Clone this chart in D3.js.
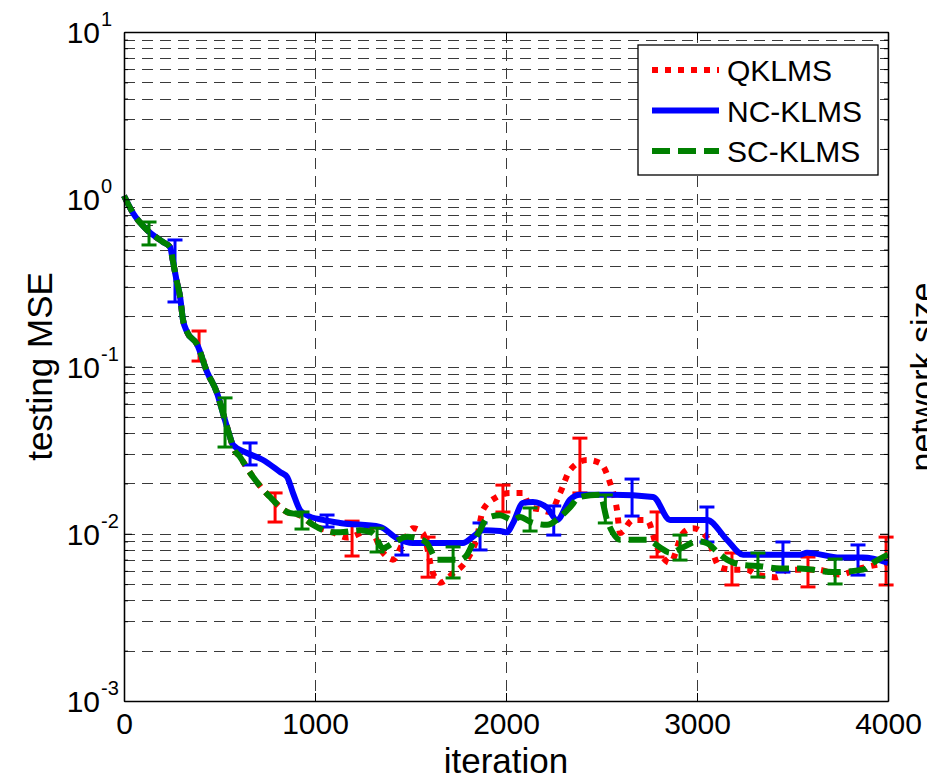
<!DOCTYPE html>
<html>
<head>
<meta charset="utf-8">
<script src="https://cdnjs.cloudflare.com/ajax/libs/d3/7.8.5/d3.min.js"></script>
<style>
  body { margin: 0; background: #fff; }
  svg { display: block; }
  text { font-family: "Liberation Sans", Arial, Helvetica, sans-serif; fill: #000; }
</style>
</head>
<body>
<svg id="chart"></svg>
<script>
// iterations / testing MSE
var qklmsIter = [0, 47, 110, 204, 241, 257, 277, 293, 309, 330, 382, 435, 487, 518, 555, 571, 607, 675, 764, 853, 921, 990, 1094, 1168, 1288, 1356, 1408, 1461, 1513, 1565, 1618, 1654, 1723, 1796, 1848, 1880, 1953, 2021, 2089, 2126, 2178, 2230, 2283, 2335, 2424, 2492, 2545, 2581, 2597, 2665, 2738, 2791, 2859, 2927, 2979, 3052, 3120, 3188, 3262, 3314, 3419, 3471, 3628, 3749, 3853, 4000];
var qklmsMse = [1.05, 0.828, 0.673, 0.555, 0.518, 0.422, 0.320, 0.264, 0.190, 0.161, 0.136, 0.0927, 0.0695, 0.0527, 0.038, 0.033, 0.0288, 0.0219, 0.0166, 0.0135, 0.0129, 0.0113, 0.0102, 0.0095, 0.0105, 0.0077, 0.0070, 0.0088, 0.0108, 0.0101, 0.0058, 0.0051, 0.0058, 0.0070, 0.0095, 0.0139, 0.0166, 0.0175, 0.0175, 0.0144, 0.0140, 0.0135, 0.0175, 0.024, 0.0276, 0.0265, 0.0201, 0.0139, 0.0101, 0.0121, 0.0121, 0.0083, 0.0067, 0.0101, 0.0108, 0.0095, 0.0063, 0.0061, 0.0061, 0.0057, 0.0055, 0.0061, 0.0061, 0.0057, 0.0062, 0.0067];

var ncIter = [0, 47, 110, 204, 241, 257, 277, 293, 309, 330, 382, 435, 487, 518, 555, 571, 644, 728, 817, 853, 885, 921, 958, 1042, 1131, 1340, 1429, 1513, 1775, 1827, 1880, 1969, 2005, 2037, 2089, 2141, 2215, 2267, 2335, 2387, 2560, 2770, 2859, 3052, 3157, 3241, 3539, 3576, 3749, 3869, 4000];
var ncMse = [1.05, 0.828, 0.673, 0.555, 0.518, 0.422, 0.320, 0.264, 0.190, 0.161, 0.136, 0.0927, 0.0695, 0.0527, 0.038, 0.034, 0.0304, 0.0276, 0.0234, 0.0219, 0.0175, 0.0139, 0.0129, 0.0121, 0.0116, 0.0110, 0.0094, 0.0088, 0.0088, 0.0096, 0.0105, 0.0104, 0.0102, 0.0116, 0.0153, 0.0155, 0.0143, 0.0121, 0.0160, 0.0171, 0.0171, 0.0166, 0.0121, 0.0121, 0.0092, 0.0075, 0.0075, 0.0077, 0.0072, 0.0072, 0.0067];

var scIter = [0, 47, 110, 204, 241, 257, 277, 293, 309, 330, 382, 435, 487, 518, 555, 571, 607, 675, 764, 853, 921, 990, 1094, 1131, 1236, 1304, 1356, 1408, 1482, 1534, 1586, 1639, 1759, 1796, 1827, 1864, 1901, 1969, 2037, 2073, 2126, 2215, 2283, 2335, 2387, 2492, 2529, 2560, 2597, 2738, 2806, 2859, 2927, 3000, 3052, 3105, 3157, 3241, 3330, 3435, 3539, 3712, 3869, 3921, 4000];
var scMse = [1.05, 0.828, 0.673, 0.555, 0.518, 0.422, 0.320, 0.264, 0.190, 0.161, 0.136, 0.0927, 0.0695, 0.0527, 0.038, 0.033, 0.0288, 0.0219, 0.0166, 0.0135, 0.0129, 0.0113, 0.0102, 0.0102, 0.0105, 0.0101, 0.0082, 0.0088, 0.0096, 0.0094, 0.0088, 0.0070, 0.0070, 0.0075, 0.0088, 0.0105, 0.0124, 0.0129, 0.0121, 0.0126, 0.0118, 0.0113, 0.0126, 0.0144, 0.0166, 0.0171, 0.0121, 0.0101, 0.0092, 0.0092, 0.0083, 0.0077, 0.0083, 0.0090, 0.0088, 0.0078, 0.0070, 0.0065, 0.0064, 0.0062, 0.0062, 0.0059, 0.0061, 0.0067, 0.0075];

// error bars: iteration, upper, lower
var qklmsErrIter = [393, 791, 1194, 1592, 1984, 2387, 2791, 3183, 3581, 3990];
var qklmsErrHi = [0.163, 0.01754, 0.0119, 0.00955, 0.01954, 0.0373, 0.0135, 0.00767, 0.00726, 0.00955];
var qklmsErrLo = [0.1078, 0.01175, 0.00736, 0.0055, 0.01349, 0.01754, 0.00726, 0.00494, 0.00481, 0.00494];

var ncErrIter = [267, 660, 1063, 1455, 1864, 2250, 2660, 3052, 3450, 3843];
var ncErrHi = [0.5708, 0.0349, 0.01294, 0.00942, 0.0116, 0.01466, 0.02123, 0.01445, 0.00893, 0.00857];
var ncErrLo = [0.2431, 0.02578, 0.01097, 0.00746, 0.0080, 0.00982, 0.01276, 0.00893, 0.0059, 0.00566];

var scErrIter = [131, 529, 932, 1325, 1723, 2126, 2520, 2911, 3319, 3723];
var scErrHi = [0.731, 0.0649, 0.0135, 0.0108, 0.00834, 0.01426, 0.01706, 0.00982, 0.00767, 0.00706];
var scErrLo = [0.533, 0.0330, 0.01067, 0.00778, 0.00544, 0.01038, 0.0116, 0.00696, 0.00551, 0.00501];

var seriesNames = ["QKLMS", "NC-KLMS", "SC-KLMS"];
var xTicks = [0, 1000, 2000, 3000, 4000];
var yMajor = [1e-3, 1e-2, 1e-1, 1, 10];
var yExponents = ["-3", "-2", "-1", "0", "1"];

var screen = { width: 927, height: 781 };
var margins = { top: 32, bottom: 80, left: 124, right: 39 };
var graphWidth = screen.width - margins.left - margins.right;
var graphHeight = screen.height - margins.top - margins.bottom;

var xScale = d3.scaleLinear().domain([0, 4000]).range([0, graphWidth]);
var yScale = d3.scaleLog().domain([1e-3, 10]).range([graphHeight, 0]);

var svg = d3.select("#chart")
  .attr("width", screen.width)
  .attr("height", screen.height);

var plot = svg.append("g")
  .attr("transform", "translate(" + margins.left + "," + margins.top + ")");

// grid (major + minor, dashed)
var yAll = yScale.ticks();
var grid = plot.append("g").attr("class", "grid")
  .attr("stroke", "#3a3a3a").attr("stroke-width", 1)
  .attr("stroke-dasharray", "11,7").attr("shape-rendering", "crispEdges");

grid.selectAll(".gy")
  .data(yAll.filter(function(d) { return d > 1e-3 * 1.01 && d < 10 * 0.99; }))
  .enter().append("line")
  .attr("x1", 0).attr("x2", graphWidth)
  .attr("y1", function(d) { return Math.round(yScale(d)) + 0.5; })
  .attr("y2", function(d) { return Math.round(yScale(d)) + 0.5; });

grid.selectAll(".gx")
  .data(xTicks.slice(1, -1))
  .enter().append("line")
  .attr("y1", 0).attr("y2", graphHeight)
  .attr("x1", function(d) { return Math.round(xScale(d)) + 0.5; })
  .attr("x2", function(d) { return Math.round(xScale(d)) + 0.5; });

// series
var series = [
  { name: seriesNames[0], iter: qklmsIter, mse: qklmsMse, eIter: qklmsErrIter, eHi: qklmsErrHi, eLo: qklmsErrLo, color: "#ff0000", dash: "6,7" },
  { name: seriesNames[1], iter: ncIter, mse: ncMse, eIter: ncErrIter, eHi: ncErrHi, eLo: ncErrLo, color: "#0000ff", dash: null },
  { name: seriesNames[2], iter: scIter, mse: scMse, eIter: scErrIter, eHi: scErrHi, eLo: scErrLo, color: "#008000", dash: "18,8" }
];

var line = d3.line()
  .x(function(d) { return xScale(d[0]); })
  .y(function(d) { return yScale(d[1]); })
  .curve(d3.curveMonotoneX);

var capHalf = 7.5;

series.forEach(function(s) {
  var pts = s.iter.map(function(it, i) { return [it, s.mse[i]]; });
  plot.append("path")
    .datum(pts)
    .attr("fill", "none")
    .attr("stroke", s.color)
    .attr("stroke-width", 6)
    .attr("stroke-linejoin", "round")
    .attr("stroke-dasharray", s.dash)
    .attr("d", line);

  var bars = plot.append("g").attr("stroke", s.color).attr("stroke-width", 3).attr("fill", "none");
  var eb = bars.selectAll("g")
    .data(s.eIter.map(function(it, i) { return { it: it, hi: s.eHi[i], lo: s.eLo[i] }; }))
    .enter().append("g");
  eb.append("line")
    .attr("x1", function(d) { return xScale(d.it); })
    .attr("x2", function(d) { return xScale(d.it); })
    .attr("y1", function(d) { return yScale(d.hi); })
    .attr("y2", function(d) { return yScale(d.lo); });
  eb.append("line")
    .attr("x1", function(d) { return xScale(d.it) - capHalf; })
    .attr("x2", function(d) { return xScale(d.it) + capHalf; })
    .attr("y1", function(d) { return yScale(d.hi); })
    .attr("y2", function(d) { return yScale(d.hi); });
  eb.append("line")
    .attr("x1", function(d) { return xScale(d.it) - capHalf; })
    .attr("x2", function(d) { return xScale(d.it) + capHalf; })
    .attr("y1", function(d) { return yScale(d.lo); })
    .attr("y2", function(d) { return yScale(d.lo); });
});

// axes box with inward ticks
var minorTicks = yAll.filter(function(d) { return yMajor.indexOf(d) < 0; });

function styleAxis(g) {
  g.selectAll("path").attr("stroke", "#000").attr("stroke-width", 1.3);
  g.selectAll("line").attr("stroke", "#000").attr("stroke-width", 1);
}

var xAxis = d3.axisBottom(xScale).tickValues(xTicks).tickSize(-8).tickSizeOuter(0)
  .tickPadding(12).tickFormat(d3.format("d"));
plot.append("g").attr("transform", "translate(0," + graphHeight + ")")
  .call(xAxis).call(styleAxis)
  .selectAll("text").attr("font-size", 30).attr("font-family", "Liberation Sans, Arial, sans-serif");

plot.append("g").call(d3.axisTop(xScale).tickValues(xTicks).tickSize(-8).tickSizeOuter(0).tickFormat(""))
  .call(styleAxis);

plot.append("g").call(d3.axisLeft(yScale).tickValues(yMajor).tickSize(-8).tickSizeOuter(0).tickFormat(""))
  .call(styleAxis);
plot.append("g").call(d3.axisLeft(yScale).tickValues(minorTicks).tickSize(-4).tickSizeOuter(0).tickFormat(""))
  .call(styleAxis);
plot.append("g").attr("transform", "translate(" + graphWidth + ",0)")
  .call(d3.axisRight(yScale).tickValues(yMajor).tickSize(-8).tickSizeOuter(0).tickFormat(""))
  .call(styleAxis);
plot.append("g").attr("transform", "translate(" + graphWidth + ",0)")
  .call(d3.axisRight(yScale).tickValues(minorTicks).tickSize(-4).tickSizeOuter(0).tickFormat(""))
  .call(styleAxis);

// y tick labels 10^k
var yLab = plot.append("g").selectAll("g")
  .data(yMajor)
  .enter().append("g")
  .attr("transform", function(d) { return "translate(-24," + yScale(d) + ")"; });
yLab.append("text")
  .attr("x", 0).attr("y", 11)
  .attr("text-anchor", "end")
  .attr("font-size", 30)
  .text("10");
yLab.append("text")
  .attr("x", 1).attr("y", -6)
  .attr("font-size", 20)
  .text(function(d, i) { return yExponents[i]; });

// axis labels
svg.append("text")
  .attr("x", margins.left + graphWidth / 2).attr("y", 773)
  .attr("text-anchor", "middle").attr("font-size", 35)
  .text("iteration");

svg.append("text")
  .attr("transform", "translate(52," + (margins.top + graphHeight / 2) + ") rotate(-90)")
  .attr("text-anchor", "middle").attr("font-size", 35)
  .text("testing MSE");

// right-hand axis title, partly outside the frame as in the original
svg.append("text")
  .attr("transform", "translate(934,377) rotate(-90)")
  .attr("text-anchor", "middle").attr("font-size", 34)
  .text("network size");

// legend
var legend = svg.append("g").attr("transform", "translate(638,45)");
legend.append("rect")
  .attr("width", 240).attr("height", 130)
  .attr("fill", "#fff").attr("stroke", "#000").attr("stroke-width", 1.3);

var legendLines = legend.selectAll(".legendLine")
  .data(series)
  .enter().append("g")
  .attr("class", "legendLine")
  .attr("transform", function(d, i) { return "translate(0," + (25 + i * 40.5) + ")"; });

legendLines.append("line")
  .attr("x1", 14).attr("x2", 81).attr("y1", 0).attr("y2", 0)
  .attr("stroke", function(d) { return d.color; })
  .attr("stroke-width", 6)
  .attr("stroke-dasharray", function(d) { return d.dash; });

legendLines.append("text")
  .attr("x", 89).attr("y", 11)
  .attr("font-size", 30)
  .text(function(d) { return d.name; });
</script>
</body>
</html>
